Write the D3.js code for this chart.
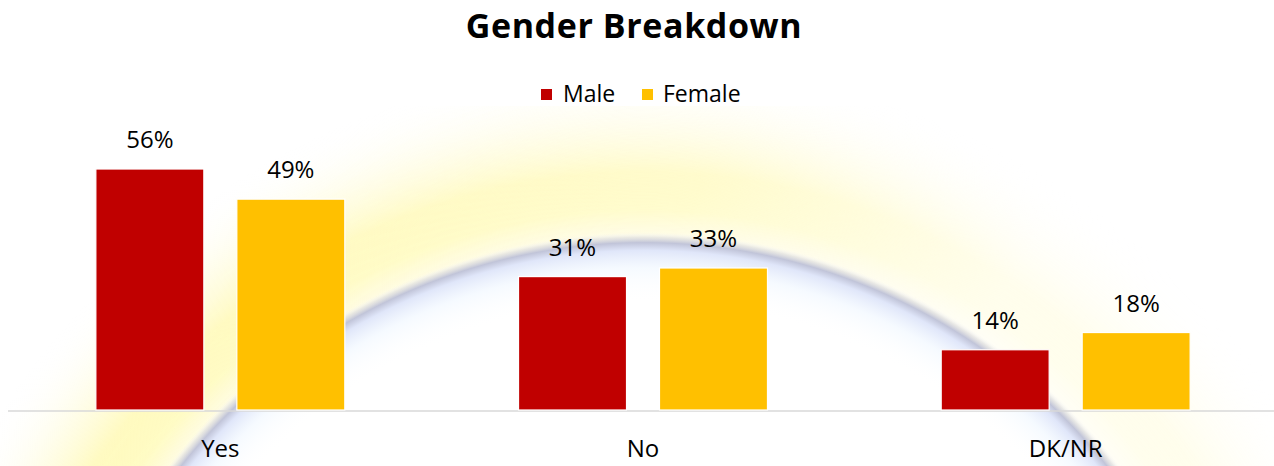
<!DOCTYPE html>
<html>
<head>
<meta charset="utf-8">
<script src="https://cdn.jsdelivr.net/npm/d3@7/dist/d3.min.js"></script>
<style>
  html, body { margin: 0; padding: 0; background: #ffffff; }
  svg { display: block; font-family: "Open Sans", "Noto Sans", sans-serif; }
</style>
</head>
<body>
<svg id="chart" width="1274" height="466"></svg>
<script>
// ---- data ----
const categories = ["Yes", "No", "DK/NR"];
const seriesNames = ["Male", "Female"];
const maleValues = [56, 31, 14];
const femaleValues = [49, 33, 18];
const seriesColors = ["#C00000", "#FFC000"];
const titleText = "Gender Breakdown";

// ---- layout ----
const W = 1274, H = 466;
const baseY = 410;
const plotLeft = 9, plotRight = 1277;

const svg = d3.select("#chart");
const defs = svg.append("defs");

// decorative background arc (rainbow glow): yellow band + bluish inner edge
const glowStops = {
  arcYellow: [
    [0.00, "#ffffff", 0],
    [0.765, "#ffffff", 0],
    [0.78, "#fffbd8", 0.85],
    [0.81, "#fffbc0", 0.95],
    [0.86, "#fff8a6", 0.7],
    [0.92, "#fffbd0", 0.45],
    [1.00, "#ffffff", 0]
  ],
  arcEdge: [
    [0.00, "#ffffff", 0],
    [0.69, "#ffffff", 0],
    [0.735, "#eef6ff", 0.55],
    [0.758, "#d8e0f8", 0.8],
    [0.768, "#b6bad2", 0.85],
    [0.775, "#c9c9c9", 0.4],
    [0.782, "#ffffff", 0]
  ]
};
Object.entries(glowStops).forEach(([id, stops]) => {
  const g = defs.append("radialGradient")
    .attr("id", id)
    .attr("gradientUnits", "userSpaceOnUse")
    .attr("cx", 644).attr("cy", 834).attr("r", 770);
  stops.forEach(s => g.append("stop")
    .attr("offset", s[0]).attr("stop-color", s[1]).attr("stop-opacity", s[2]));
});

// fade the yellow toward the bottom and the right
const fade = defs.append("linearGradient")
  .attr("id", "fadeGrad")
  .attr("gradientUnits", "userSpaceOnUse")
  .attr("x1", 300).attr("y1", 110).attr("x2", 900).attr("y2", 466);
fade.append("stop").attr("offset", 0).attr("stop-color", "#fff").attr("stop-opacity", 1);
fade.append("stop").attr("offset", 0.55).attr("stop-color", "#fff").attr("stop-opacity", 0.8);
fade.append("stop").attr("offset", 1).attr("stop-color", "#fff").attr("stop-opacity", 0.3);
defs.append("mask").attr("id", "fadeMask")
  .attr("maskUnits", "userSpaceOnUse")
  .attr("x", 0).attr("y", 0).attr("width", W).attr("height", H)
  .append("rect").attr("x", 0).attr("y", 0).attr("width", W).attr("height", H)
  .attr("fill", "url(#fadeGrad)");

defs.append("clipPath").attr("id", "bgClip")
  .append("rect").attr("x", 0).attr("y", 106).attr("width", W).attr("height", H - 106);

const bg = svg.append("g").attr("clip-path", "url(#bgClip)");
bg.append("circle")
  .attr("cx", 644).attr("cy", 834).attr("r", 770)
  .attr("fill", "url(#arcYellow)")
  .attr("mask", "url(#fadeMask)");
bg.append("circle")
  .attr("cx", 644).attr("cy", 834).attr("r", 770)
  .attr("fill", "url(#arcEdge)");

// ---- scales ----
const x0 = d3.scaleBand()
  .domain(categories)
  .range([plotLeft, plotRight])
  .paddingInner(0.411)
  .paddingOuter(0.2055);

const x1 = d3.scaleBand()
  .domain(seriesNames)
  .range([0, x0.bandwidth()])
  .paddingInner(0.234)
  .paddingOuter(0);

const y = d3.scaleLinear()
  .domain([0, 60])
  .range([baseY, baseY - 258.2]);

const color = d3.scaleOrdinal().domain(seriesNames).range(seriesColors);

const rows = categories.map((c, i) => ({
  category: c,
  values: [
    { series: "Male", value: maleValues[i] },
    { series: "Female", value: femaleValues[i] }
  ]
}));

// ---- baseline ----
svg.append("line")
  .attr("x1", 8).attr("x2", W)
  .attr("y1", baseY + 1).attr("y2", baseY + 1)
  .attr("stroke", "#d9d9d9").attr("stroke-width", 1.5);

// ---- bars ----
const groups = svg.append("g").selectAll("g")
  .data(rows).join("g")
  .attr("transform", d => `translate(${x0(d.category)},0)`);

groups.selectAll("rect")
  .data(d => d.values).join("rect")
  .attr("x", d => x1(d.series))
  .attr("y", d => y(d.value))
  .attr("width", x1.bandwidth())
  .attr("height", d => y(0) - y(d.value))
  .attr("fill", d => color(d.series))
  .attr("stroke", "#ffffff")
  .attr("stroke-width", 1.2);

groups.selectAll("text.val")
  .data(d => d.values).join("text")
  .attr("class", "val")
  .attr("x", d => x1(d.series) + x1.bandwidth() / 2)
  .attr("y", d => y(d.value) - 21)
  .attr("text-anchor", "middle")
  .attr("font-size", 24)
  .attr("fill", "#000")
  .text(d => d.value + "%");

// ---- x axis ----
const xAxis = svg.append("g")
  .attr("transform", `translate(0,${baseY + 1})`)
  .call(d3.axisBottom(x0).tickSize(0).tickPadding(29));
xAxis.select(".domain").remove();
xAxis.selectAll("text")
  .attr("font-size", 24)
  .attr("font-family", "'Open Sans', 'Noto Sans', sans-serif")
  .attr("fill", "#000");

// ---- title ----
svg.append("text")
  .attr("x", 634).attr("y", 38)
  .attr("text-anchor", "middle")
  .attr("font-size", 34)
  .attr("font-weight", "bold")
  .attr("letter-spacing", 0.6)
  .attr("fill", "#000")
  .text(titleText);

// ---- legend ----
const legendItems = [
  { name: "Male", sx: 541, tx: 563 },
  { name: "Female", sx: 642, tx: 663 }
];
const legend = svg.append("g");
legend.selectAll("rect")
  .data(legendItems).join("rect")
  .attr("x", d => d.sx).attr("y", 89)
  .attr("width", 11).attr("height", 11)
  .attr("fill", d => color(d.name));
legend.selectAll("text")
  .data(legendItems).join("text")
  .attr("x", d => d.tx).attr("y", 102)
  .attr("font-size", 23)
  .attr("fill", "#000")
  .text(d => d.name);
</script>
</body>
</html>
